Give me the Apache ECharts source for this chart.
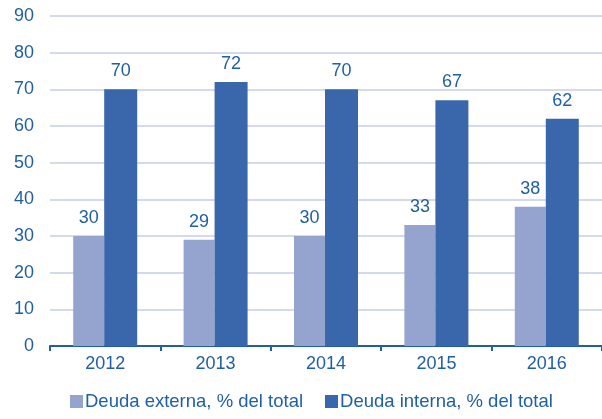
<!DOCTYPE html>
<html>
<head>
<meta charset="utf-8"/>
<script src="https://cdn.jsdelivr.net/npm/echarts@6/dist/echarts.min.js"></script>
<style>
  html, body { margin: 0; padding: 0; background: #fff; }
  #chart { width: 602px; height: 419px; }
</style>
</head>
<body>
<div id="chart"></div>
<script type="text/javascript">
  // datos
  var years = ['2012', '2013', '2014', '2015', '2016'];
  var externa = [30, 29, 30, 33, 38];
  var interna = [70, 72, 70, 67, 62];
  var seriesNames = ['Deuda externa, % del total', 'Deuda interna, % del total'];

  var textColor = '#1f5fa6';
  var font = '"Liberation Sans", Arial, sans-serif';

  var myChart = echarts.init(document.getElementById('chart'));

  var labelOpt = {
    show: true,
    position: 'top',
    distance: 9,
    color: textColor,
    fontFamily: font,
    fontSize: 18
  };

  var option = {
    animation: false,
    grid: {
      left: 50,
      right: 0,
      top: 16,
      bottom: 73
    },
    legend: {
      bottom: 3,
      left: 65,
      itemGap: 22,
      itemWidth: 13,
      itemHeight: 13,
      icon: 'rect',
      textStyle: { color: textColor, fontFamily: font, fontSize: 18.5, padding: [0, 0, 0, -3] },
      data: seriesNames
    },
    xAxis: {
      type: 'category',
      data: years,
      axisLine: { lineStyle: { color: '#1f5fa6', width: 2 } },
      axisTick: { show: true, length: 5, lineStyle: { color: '#1f5fa6', width: 2 } },
      axisLabel: { color: textColor, fontFamily: font, fontSize: 18, margin: 9 }
    },
    yAxis: {
      type: 'value',
      min: 0,
      max: 90,
      interval: 10,
      axisLine: { show: false },
      axisTick: { show: false },
      axisLabel: { color: textColor, fontFamily: font, fontSize: 18, margin: 16 },
      splitLine: { lineStyle: { color: '#c6cce4', width: 1.5 } }
    },
    series: [
      {
        name: seriesNames[0],
        type: 'bar',
        data: externa,
        barWidth: 31,
        barGap: '0%',
        itemStyle: { color: '#95a4cf' },
        label: labelOpt
      },
      {
        name: seriesNames[1],
        type: 'bar',
        data: interna,
        barWidth: 33,
        itemStyle: { color: '#3a67ab' },
        label: labelOpt
      }
    ]
  };
  myChart.setOption(option);
</script>
</body>
</html>
